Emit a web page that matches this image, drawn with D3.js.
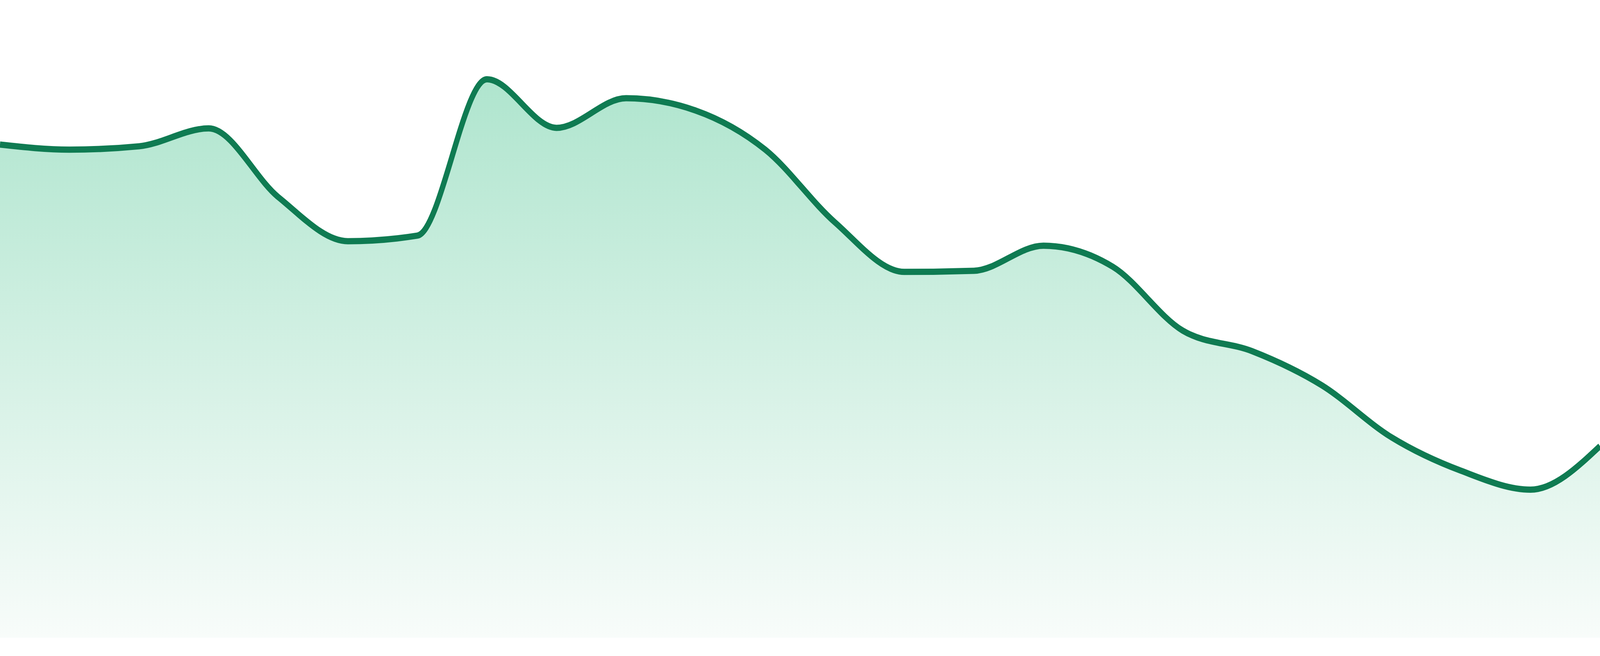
<!DOCTYPE html>
<html>
<head>
<meta charset="utf-8">
<script src="https://cdn.jsdelivr.net/npm/d3@7"></script>
<style>
  html, body { margin: 0; padding: 0; background: #fff; overflow: hidden; }
</style>
</head>
<body>
<script>
// values, one per step
const values = [88.3, 87.4, 88.0, 91.2, 78.9, 71.0, 72.0, 100, 91.3, 96.6, 94.4, 87.4,
                74.4, 65.5, 65.7, 70.2, 66.4, 55.0, 51.3, 45.2, 35.9, 29.9, 26.5, 34.3];
const steps = values.map((d, i) => i);

const width = 4800;
const height = 1680;
const margin = {top: 203, bottom: 47};

// drawn in a 4800x1680 viewBox, stretched to the window
const svg = d3.select('body').append('svg')
  .attr('viewBox', `0 0 ${width} ${height}`)
  .attr('preserveAspectRatio', 'none')
  .style('display', 'block')
  .style('width', '100vw')
  .style('height', '100vh');

const x = d3.scaleLinear()
  .domain([0, steps.length - 1])
  .range([0, width]);

const y = d3.scaleLinear()
  .domain([0, 100])
  .range([height - margin.bottom, margin.top]);

const grad = svg.append('defs').append('linearGradient')
  .attr('id', 'fill')
  .attr('gradientUnits', 'userSpaceOnUse')
  .attr('x1', 0).attr('x2', 0)
  .attr('y1', y(d3.max(values)))
  .attr('y2', y(0));
grad.append('stop').attr('offset', 0).attr('stop-color', '#afe5ce');
grad.append('stop').attr('offset', 1).attr('stop-color', '#f8fcfa');

const area = d3.area()
  .x((d, i) => x(steps[i]))
  .y0(y(0))
  .y1(d => y(d))
  .curve(d3.curveMonotoneX);

const line = d3.line()
  .x((d, i) => x(steps[i]))
  .y(d => y(d))
  .curve(d3.curveMonotoneX);

svg.append('path')
  .datum(values)
  .attr('d', area)
  .attr('fill', 'url(#fill)');

svg.append('path')
  .datum(values)
  .attr('d', line)
  .attr('fill', 'none')
  .attr('stroke', '#0f7b52')
  .attr('stroke-width', 16)
  .attr('stroke-linejoin', 'round');
</script>
</body>
</html>
